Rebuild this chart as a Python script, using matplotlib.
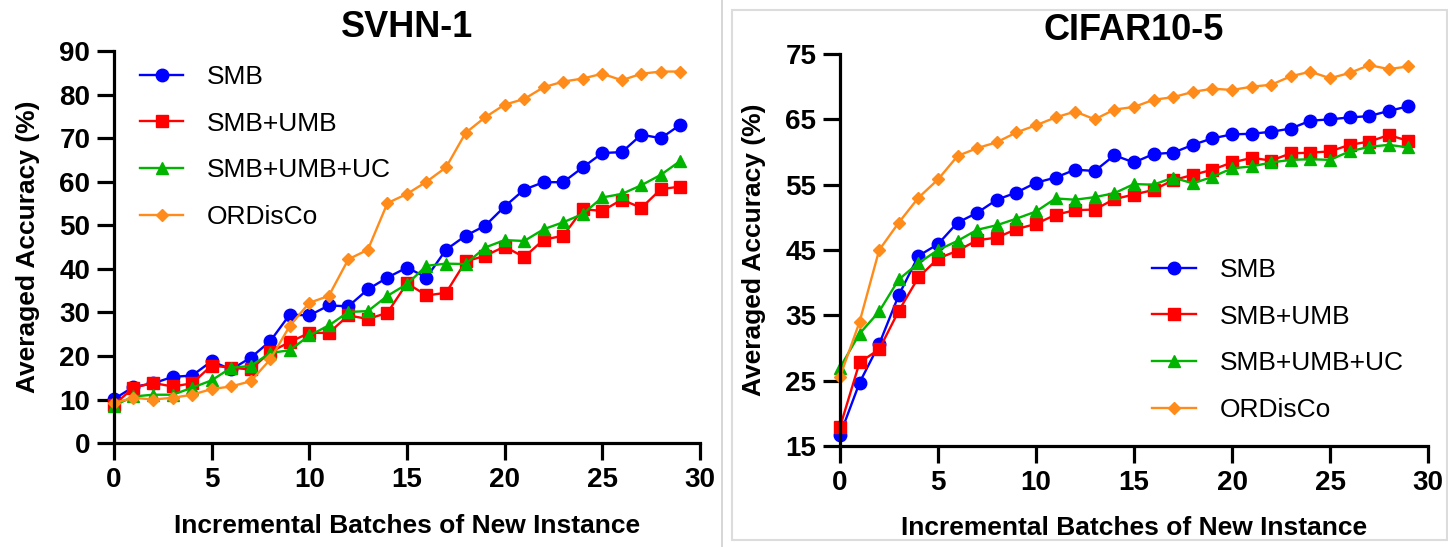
import numpy as np
import matplotlib.pyplot as plt
from matplotlib.lines import Line2D
from matplotlib.patches import Rectangle

plt.rcParams['font.family'] = ['Liberation Sans', 'DejaVu Sans']

batches = np.arange(30)
names = ['SMB', 'SMB+UMB', 'SMB+UMB+UC', 'ORDisCo']

# SVHN-1 averaged accuracy (%)
svhn_smb = [10.1, 12.9, 13.7, 15.2, 15.5, 18.8, 16.9, 19.6, 23.4, 29.5,
            29.3, 31.6, 31.4, 35.3, 38.0, 40.3, 38.0, 44.4, 47.6, 49.9,
            54.3, 58.2, 59.9, 59.9, 63.3, 66.6, 66.8, 70.8, 70.0, 73.1]
svhn_umb = [8.8, 12.7, 13.8, 13.0, 13.7, 17.8, 17.3, 16.9, 20.9, 23.2,
            25.3, 25.3, 29.3, 28.5, 29.9, 36.7, 33.9, 34.5, 41.7, 43.0,
            45.1, 42.7, 46.7, 47.6, 53.7, 53.3, 55.9, 54.0, 58.3, 58.9]
svhn_uc = [8.6, 10.7, 11.1, 11.1, 12.7, 14.4, 17.3, 17.7, 20.7, 21.3,
           24.7, 27.0, 30.1, 30.3, 33.8, 36.5, 40.7, 41.2, 41.1, 44.9,
           46.6, 46.4, 49.1, 50.7, 52.6, 56.4, 57.2, 59.2, 61.6, 64.8]
svhn_ord = [9.2, 10.4, 10.0, 10.4, 11.1, 12.4, 13.0, 14.2, 19.2, 26.9,
            32.2, 33.8, 42.2, 44.4, 55.1, 57.2, 60.0, 63.3, 71.2, 74.8,
            77.7, 79.0, 81.7, 83.0, 83.7, 84.8, 83.3, 84.8, 85.3, 85.3]

# CIFAR10-5 averaged accuracy (%)
cifar_smb = [16.7, 24.7, 30.6, 38.1, 44.1, 45.9, 49.2, 50.7, 52.7, 53.8,
             55.3, 56.1, 57.3, 57.1, 59.5, 58.4, 59.7, 59.9, 61.1, 62.1,
             62.7, 62.8, 63.1, 63.6, 64.8, 65.0, 65.3, 65.5, 66.3, 67.0]
cifar_umb = [17.9, 27.8, 29.8, 35.7, 40.8, 43.7, 44.9, 46.5, 46.9, 48.2,
             49.0, 50.4, 51.1, 51.2, 52.8, 53.5, 54.2, 55.7, 56.5, 57.3,
             58.4, 59.1, 58.7, 59.8, 59.9, 60.1, 61.1, 61.6, 62.6, 61.7]
cifar_uc = [27.0, 32.2, 35.6, 40.5, 43.0, 45.0, 46.4, 48.1, 48.8, 49.8,
            50.9, 52.9, 52.7, 53.1, 53.7, 55.1, 55.0, 56.1, 55.2, 56.2,
            57.5, 57.8, 58.4, 58.8, 58.9, 58.8, 60.1, 60.8, 61.1, 60.7]
cifar_ord = [25.6, 34.0, 45.0, 49.2, 53.0, 55.8, 59.4, 60.6, 61.5, 63.0,
             64.1, 65.3, 66.2, 65.0, 66.5, 66.9, 68.0, 68.4, 69.2, 69.7,
             69.5, 70.0, 70.3, 71.6, 72.3, 71.3, 72.1, 73.3, 72.7, 73.1]

colors = ['#0000ff', '#ff0000', '#00b400', '#ff8c1a']
markers = ['o', 's', '^', 'D']
msizes = [9, 8, 8, 6]


def draw(ax, series, title, ylim, yticks):
    for ys, name, c, m, ms in zip(series, names, colors, markers, msizes):
        ax.plot(batches, ys, color=c, marker=m, markersize=ms, lw=1.7,
                label=name, clip_on=False)
    ax.set_xlim(0, 30)
    ax.set_ylim(*ylim)
    ax.set_xticks(range(0, 31, 5))
    ax.set_yticks(yticks)
    for s in ['top', 'right']:
        ax.spines[s].set_visible(False)
    for s in ['left', 'bottom']:
        ax.spines[s].set_linewidth(2.3)
    ax.tick_params(width=2.3, length=12, labelsize=20, pad=5)
    for lab in ax.get_xticklabels() + ax.get_yticklabels():
        lab.set_fontweight('bold')
    ax.set_title(title, fontsize=26, fontweight='bold', pad=10)
    ax.set_xlabel('Incremental Batches of New Instance', fontsize=19,
                  fontweight='bold', labelpad=15)
    ax.set_ylabel('Averaged Accuracy (%)', fontsize=19, fontweight='bold',
                  labelpad=14)


fig = plt.figure(figsize=(14.48, 5.47), dpi=100)
ax1 = fig.add_axes([0.0787, 0.190, 0.4047, 0.7166])
ax2 = fig.add_axes([0.5801, 0.1846, 0.4061, 0.7166])

draw(ax1, [svhn_smb, svhn_umb, svhn_uc, svhn_ord], 'SVHN-1', (0, 90), range(0, 91, 10))
draw(ax2, [cifar_smb, cifar_umb, cifar_uc, cifar_ord], 'CIFAR10-5', (15, 75), range(15, 76, 10))

leg_kw = dict(frameon=False, fontsize=19, handlelength=1.65, handletextpad=0.9,
              labelspacing=0.86, borderaxespad=0, borderpad=0, loc='upper left')
ax1.legend(bbox_to_anchor=(0.044, 0.965), **leg_kw)
ax2.legend(bbox_to_anchor=(0.531, 0.48), **leg_kw)

# divider between panels and frame around the right one
fig.add_artist(Line2D([722 / 1448] * 2, [0, 1], color='#d0d0d0', lw=1.2))
fig.add_artist(Rectangle((732 / 1448, 7 / 547), 715 / 1448, 530 / 547,
                         fill=False, edgecolor='#dcdcdc', lw=1.5))

fig.savefig('out.png', dpi=100)
